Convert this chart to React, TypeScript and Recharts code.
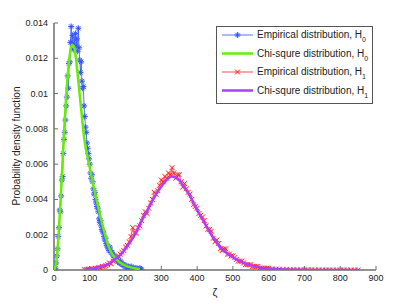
import React from "react";
import { LineChart, Line, XAxis, YAxis, Label } from "recharts";

// H0: empirical histogram (blue) and chi-square fit (green)
const h0EmpX = [
  2, 4, 6, 8, 10, 12, 14, 16, 18, 20, 22, 24, 26, 28, 30, 32, 34, 36, 38, 40,
  42, 44, 46, 48, 50, 52, 54, 56, 58, 60, 62, 64, 66, 68, 70, 72, 74, 76, 78,
  80, 82, 84, 86, 88, 90, 92, 94, 96, 98, 100, 102, 104, 106, 108, 110, 112,
  114, 116, 118, 120, 122, 124, 126, 128, 130, 132, 134, 136, 138, 140, 142,
  144, 146, 148, 150, 152, 154, 156, 158, 160, 162, 164, 166, 168, 170, 172,
  174, 176, 178, 180, 182, 184, 186, 188, 190, 192, 194, 196, 198, 200, 202,
  204, 206, 208, 210, 212, 214, 216, 218, 220, 222, 224, 226, 228, 230, 232,
  234, 236, 238, 240, 242, 244,
];
const h0EmpY = [
  0.00005, 0.0001, 0.0004, 0.0008, 0.0012, 0.0019, 0.0024, 0.0034, 0.0033,
  0.0042, 0.0051, 0.0053, 0.0066, 0.0074, 0.0078, 0.0085, 0.0093, 0.0098,
  0.011, 0.0103, 0.0117, 0.0118, 0.0129, 0.0138, 0.0129, 0.0133, 0.0125,
  0.0128, 0.0131, 0.0134, 0.0127, 0.0131, 0.0124, 0.0137, 0.0126, 0.0119,
  0.0112, 0.0118, 0.0107, 0.0103, 0.0104, 0.0093, 0.0087, 0.0081, 0.0078,
  0.0072, 0.0069, 0.0066, 0.0063, 0.006, 0.0055, 0.0052, 0.0054, 0.005,
  0.0046, 0.0043, 0.0044, 0.004, 0.0038, 0.0036, 0.0035, 0.0033, 0.0029,
  0.0027, 0.0028, 0.0025, 0.0023, 0.0022, 0.0021, 0.0019, 0.0017, 0.0018,
  0.0015, 0.0014, 0.0013, 0.0012, 0.0011, 0.0013, 0.0011, 0.001, 0.001,
  0.0009, 0.0008, 0.0008, 0.0007, 0.0006, 0.0006, 0.0007, 0.0005, 0.0005,
  0.0004, 0.0004, 0.0005, 0.0004, 0.0003, 0.0003, 0.0003, 0.0003, 0.0002,
  0.0002, 0.0002, 0.0002, 0.0001, 0.0002, 0.0001, 0.0001, 0.0001, 0.0002,
  0.0001, 0.0001, 0.0001, 0.0001, 0.00005, 0.0001, 0.00005, 0.0001, 0.00005,
  0.00005, 0.00005, 0.0001, 0.00005, 0.00005,
];
const h0FitX = [
  0, 5, 10, 15, 20, 25, 30, 35, 40, 45, 50, 55, 60, 65, 70, 75, 80, 85, 90, 95,
  100, 110, 120, 130, 140, 150, 160, 170, 180, 190, 200, 220, 240,
];
const h0FitY = [
  0, 0.0003, 0.0012, 0.0027, 0.0046, 0.0066, 0.0085, 0.0101, 0.0114, 0.0123,
  0.01275, 0.0127, 0.0122, 0.0113, 0.0103, 0.0093, 0.0083, 0.0074, 0.0068,
  0.0063, 0.0058, 0.0048, 0.0039, 0.003, 0.0022, 0.0015, 0.001, 0.0007,
  0.0005, 0.00035, 0.00025, 0.00012, 0.00005,
];

// H1: empirical histogram (red) and chi-square fit (purple)
const h1EmpX = [
  85, 90, 95, 100, 105, 110, 115, 120, 125, 130, 135, 140, 145, 150, 155, 160,
  165, 170, 175, 180, 185, 190, 195, 200, 205, 210, 215, 220, 225, 230, 235,
  240, 245, 250, 255, 260, 265, 270, 275, 280, 285, 290, 295, 300, 305, 310,
  315, 320, 325, 330, 335, 340, 345, 350, 355, 360, 365, 370, 375, 380, 385,
  390, 395, 400, 405, 410, 415, 420, 425, 430, 435, 440, 445, 450, 455, 460,
  465, 470, 475, 480, 485, 490, 495, 500, 505, 510, 515, 520, 525, 530, 535,
  540, 545, 550, 555, 560, 565, 570, 575, 580, 585, 590, 595, 600, 610, 620,
  630, 640, 650, 660, 670, 680, 690, 700, 710, 720, 730, 740, 750, 760, 770,
  780, 790, 800, 810, 820, 830, 840, 850,
];
const h1EmpY = [
  0.00002, 0.00003, 0.00004, 0.00005, 0.00007, 0.00006, 0.0001, 0.0001,
  0.00015, 0.00012, 0.0002, 0.0002, 0.00025, 0.0003, 0.0004, 0.00035, 0.0005,
  0.0006, 0.0007, 0.0008, 0.0009, 0.001, 0.0011, 0.0013, 0.0014, 0.0016,
  0.0019, 0.0024, 0.0021, 0.0021, 0.0024, 0.0025, 0.0028, 0.0031, 0.0033,
  0.0032, 0.0035, 0.0038, 0.004, 0.0044, 0.0043, 0.0045, 0.0048, 0.0051,
  0.005, 0.0053, 0.0052, 0.0055, 0.0054, 0.0058, 0.0055, 0.0052, 0.0054,
  0.0054, 0.005, 0.0047, 0.0049, 0.0046, 0.0044, 0.0043, 0.004, 0.0037,
  0.0036, 0.0035, 0.0032, 0.0031, 0.003, 0.0028, 0.0025, 0.0023, 0.0023,
  0.0022, 0.0018, 0.0016, 0.0017, 0.0015, 0.0012, 0.0011, 0.0012, 0.0012,
  0.0009, 0.0009, 0.0008, 0.0008, 0.0007, 0.0006, 0.0005, 0.0005, 0.0005,
  0.0004, 0.0003, 0.0003, 0.0003, 0.0003, 0.0002, 0.0002, 0.0002, 0.0002,
  0.0001, 0.0001, 0.0001, 0.0001, 0.0001, 0.0001, 0.00006, 0.00005, 0.00004,
  0.00003, 0.00003, 0.00002, 0.00002, 0.00001, 0.00001, 0.00001, 0.00001,
  0.00001, 0, 0.00001, 0, 0, 0, 0, 0, 0, 0, 0, 0, 0, 0,
];
const h1FitX = [
  85, 100, 115, 130, 150, 170, 190, 210, 226, 240, 264, 280, 292, 310, 329, 345,
  360, 380, 400, 420, 440, 460, 480, 500, 520, 540, 560, 580, 600, 630, 660,
  700, 750, 800, 850,
];
const h1FitY = [
  0.00002, 0.00003, 0.0001, 0.0002, 0.00032, 0.0006, 0.00095, 0.0015, 0.002,
  0.0026, 0.0035, 0.0041, 0.0045, 0.005, 0.0053, 0.0052, 0.0048, 0.0042,
  0.0034, 0.0027, 0.002, 0.0014, 0.001, 0.00072, 0.0005, 0.00032, 0.00021,
  0.00013, 0.00008, 0.00004, 0.00002, 0.00001, 0, 0, 0,
];

const xTicks = [0, 100, 200, 300, 400, 500, 600, 700, 800, 900];
const yTicks = [0, 0.002, 0.004, 0.006, 0.008, 0.01, 0.012, 0.014];
const X_DOMAIN = [0, 900];
const Y_DOMAIN = [0, 0.014];

const zip = (xs: number[], ys: number[]) => xs.map((x, i) => ({ x, y: ys[i] }));

const W = 415;
const H = 304;
const MARGIN = { top: 23, right: 39, left: 54, bottom: 34 };

const FONT = "'Liberation Sans', Arial, sans-serif";
const AXIS = "#6e6e6e";
const BLUE = "#3050ff";
const GREEN = "#66ee00";
const RED = "#ff1a1a";
const PURPLE = "#b03cff";

const fmtY = (v: number) => String(Number(v.toFixed(3)));

const Star = (props: any) => {
  const { cx, cy, index } = props;
  if (cx == null || cy == null) return <g key={index} />;
  const r = 3;
  const d = 2.1;
  const strokes = (
    <>
      <line x1={cx - r} y1={cy} x2={cx + r} y2={cy} />
      <line x1={cx} y1={cy - r} x2={cx} y2={cy + r} />
      <line x1={cx - d} y1={cy - d} x2={cx + d} y2={cy + d} />
      <line x1={cx - d} y1={cy + d} x2={cx + d} y2={cy - d} />
    </>
  );
  return (
    <g key={index}>
      <g stroke="#8fa4ff" strokeWidth={2.4} strokeOpacity={0.2}>
        {strokes}
      </g>
      <g stroke={BLUE} strokeWidth={0.9}>
        {strokes}
      </g>
    </g>
  );
};

const Cross = (props: any) => {
  const { cx, cy, index } = props;
  if (cx == null || cy == null) return <g key={index} />;
  const d = 2.4;
  const strokes = (
    <>
      <line x1={cx - d} y1={cy - d} x2={cx + d} y2={cy + d} />
      <line x1={cx - d} y1={cy + d} x2={cx + d} y2={cy - d} />
    </>
  );
  return (
    <g key={index}>
      <g stroke="#ff8080" strokeWidth={2.4} strokeOpacity={0.2}>
        {strokes}
      </g>
      <g stroke={RED} strokeWidth={0.9}>
        {strokes}
      </g>
    </g>
  );
};

const BottomTick = (props: any) => {
  const { x, y, payload } = props;
  return (
    <g>
      <line x1={x} y1={y} x2={x} y2={y - 4} stroke={AXIS} />
      <text x={x} y={y + 11} textAnchor="middle" fontSize={9} fontFamily={FONT} fill="#222">
        {payload.value}
      </text>
    </g>
  );
};

const TopTick = (props: any) => {
  const { x, y } = props;
  return <line x1={x} y1={y} x2={x} y2={y + 4} stroke={AXIS} />;
};

const LeftTick = (props: any) => {
  const { x, y, payload } = props;
  return (
    <g>
      <line x1={x} y1={y} x2={x + 4} y2={y} stroke={AXIS} />
      <text x={x - 6} y={y + 3} textAnchor="end" fontSize={9} fontFamily={FONT} fill="#222">
        {fmtY(payload.value)}
      </text>
    </g>
  );
};

const RightTick = (props: any) => {
  const { x, y } = props;
  return <line x1={x} y1={y} x2={x - 4} y2={y} stroke={AXIS} />;
};

const legendRows = [
  { label: "Empirical distribution, H", sub: "0", color: BLUE, kind: "star" },
  { label: "Chi-squre distribution, H", sub: "0", color: GREEN, kind: "thick" },
  { label: "Empirical distribution, H", sub: "1", color: RED, kind: "cross" },
  { label: "Chi-squre distribution, H", sub: "1", color: PURPLE, kind: "thick" },
];
const legendRowY = [35, 53.5, 72, 90.5];

const ChartLegend = () => (
  <svg
    width={W}
    height={H}
    style={{ position: "absolute", left: 0, top: 0, pointerEvents: "none" }}
  >
    <rect x={216.5} y={26.5} width={156} height={77} fill="#fff" stroke="#555" strokeWidth={1} />
    {legendRows.map((row, i) => {
      const cy = legendRowY[i];
      return (
        <g key={i}>
          <line
            x1={222}
            y1={cy}
            x2={253}
            y2={cy}
            stroke={row.color}
            strokeWidth={row.kind === "thick" ? 2.5 : 0.8}
          />
          {row.kind === "star" && <Star cx={237.5} cy={cy} index={i} />}
          {row.kind === "cross" && <Cross cx={237.5} cy={cy} index={i} />}
          <text x={257} y={cy + 3} fontSize={10} fontFamily={FONT} fill="#222">
            {row.label}
            <tspan dy={4} fontSize={7}>
              {row.sub}
            </tspan>
          </text>
        </g>
      );
    })}
  </svg>
);

// Fitted curves sit in their own chart on top so the dense markers don't hide them
const FitCurves = () => (
  <div style={{ position: "absolute", left: 0, top: 0 }}>
    <LineChart width={W} height={H} margin={MARGIN}>
      <XAxis type="number" dataKey="x" domain={X_DOMAIN} allowDataOverflow hide />
      <YAxis type="number" domain={Y_DOMAIN} allowDataOverflow hide />
      <Line
        data={zip(h0FitX, h0FitY)}
        dataKey="y"
        type="monotone"
        stroke={GREEN}
        strokeWidth={2.5}
        dot={false}
        isAnimationActive={false}
      />
      <Line
        data={zip(h1FitX, h1FitY)}
        dataKey="y"
        type="monotone"
        stroke={PURPLE}
        strokeWidth={2.5}
        dot={false}
        isAnimationActive={false}
      />
    </LineChart>
  </div>
);

export default function App() {
  return (
    <div style={{ position: "absolute", left: 0, top: 0, width: W, height: H, background: "#fff" }}>
      <LineChart width={W} height={H} margin={{ top: 23, right: 39, left: 0, bottom: 0 }}>
        <XAxis
          xAxisId={0}
          type="number"
          dataKey="x"
          domain={X_DOMAIN}
          ticks={xTicks}
          allowDataOverflow
          height={34}
          tickSize={0}
          tickMargin={0}
          tickLine={false}
          tick={<BottomTick />}
          axisLine={{ stroke: AXIS, strokeWidth: 1.5 }}
        >
          <Label
            content={() => (
              <text x={215} y={296} textAnchor="middle" fontSize={11} fontFamily={FONT} fill="#222">
                ζ
              </text>
            )}
          />
        </XAxis>
        <XAxis
          xAxisId="top"
          orientation="top"
          type="number"
          dataKey="x"
          domain={X_DOMAIN}
          ticks={xTicks}
          allowDataOverflow
          height={0}
          tickSize={0}
          tickMargin={0}
          tickLine={false}
          tick={<TopTick />}
          axisLine={{ stroke: AXIS, strokeWidth: 1.5 }}
        />
        <YAxis
          yAxisId={0}
          type="number"
          domain={Y_DOMAIN}
          ticks={yTicks}
          allowDataOverflow
          width={54}
          tickSize={0}
          tickMargin={0}
          tickLine={false}
          tick={<LeftTick />}
          axisLine={{ stroke: AXIS, strokeWidth: 1.5 }}
        >
          <Label
            content={() => (
              <text
                x={16}
                y={146}
                transform="rotate(-90, 16, 146)"
                textAnchor="middle"
                dy="0.35em"
                fontSize={10}
                fontFamily={FONT}
                fill="#222"
              >
                Probability density function
              </text>
            )}
          />
        </YAxis>
        <YAxis
          yAxisId="right"
          orientation="right"
          type="number"
          domain={Y_DOMAIN}
          ticks={yTicks}
          allowDataOverflow
          width={0}
          tickSize={0}
          tickMargin={0}
          tickLine={false}
          tick={<RightTick />}
          axisLine={{ stroke: AXIS, strokeWidth: 1.5 }}
        />
        <Line
          data={zip(h0EmpX, h0EmpY)}
          dataKey="y"
          type="linear"
          stroke={BLUE}
          strokeWidth={0.8}
          dot={Star}
          isAnimationActive={false}
        />
        <Line
          data={zip(h1EmpX, h1EmpY)}
          dataKey="y"
          type="linear"
          stroke={RED}
          strokeWidth={0.8}
          dot={Cross}
          isAnimationActive={false}
        />
      </LineChart>
      <FitCurves />
      <ChartLegend />
    </div>
  );
}
